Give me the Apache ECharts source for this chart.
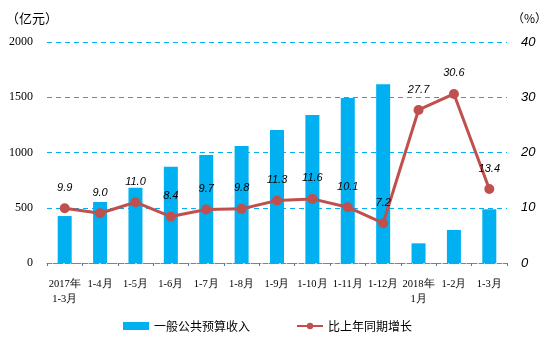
<!DOCTYPE html>
<html><head><meta charset="utf-8">
<script src="https://cdn.jsdelivr.net/npm/echarts@6/dist/echarts.min.js"></script>
<style>html,body{margin:0;padding:0;background:#fff}#c{width:554px;height:348px}</style>
</head><body><div id="c"></div>
<script>
const categories = ['2017年\n1-3月','1-4月','1-5月','1-6月','1-7月','1-8月','1-9月','1-10月','1-11月','1-12月','2018年\n1月','1-2月','1-3月'];
const revenue = [425, 552, 681, 872, 977, 1059, 1204, 1339, 1493, 1617, 178, 299, 486];
const growth = [9.9, 9.0, 11.0, 8.4, 9.7, 9.8, 11.3, 11.6, 10.1, 7.2, 27.7, 30.6, 13.4];
const leftTicks = [0, 2000, 500];
const rightTicks = [0, 40, 10];
const seriesNames = ['一般公共预算收入', '比上年同期增长'];
const unitLeft = '（亿元）', unitRight = '（%）';

const chart = echarts.init(document.getElementById('c'));
chart.setOption({
  animation: false,
  textStyle: {fontFamily: 'Noto Sans CJK SC'},
  grid: {left: 47, right: 47, top: 42, bottom: 85},
  graphic: [
    {type: 'text', left: 6, top: 12, style: {text: unitLeft, font: '13px "Noto Sans CJK SC"', fill: '#000'}},
    {type: 'text', left: 512, top: 12, style: {text: unitRight, font: '12px "Noto Sans CJK SC"', fill: '#000'}}
  ],
  legend: {
    left: 118, bottom: 11, itemGap: 46, itemWidth: 26, itemHeight: 8,
    textStyle: {fontSize: 12, color: '#000', fontFamily: 'Noto Sans CJK SC'},
    data: [{name: seriesNames[0], icon: 'rect'}, {name: seriesNames[1]}]
  },
  xAxis: {
    type: 'category', data: categories,
    axisLine: {show: true, lineStyle: {color: '#00B0F0', type: 'dashed'}},
    axisTick: {show: true, lineStyle: {color: '#4a7fb5'}, length: 3},
    axisLabel: {interval: 0, color: '#000', fontSize: 10.5, fontFamily: 'Liberation Serif', margin: 14, lineHeight: 15}
  },
  yAxis: [
    {type: 'value', min: leftTicks[0], max: leftTicks[1], interval: leftTicks[2],
     axisLine: {show: false}, axisTick: {show: false},
     splitLine: {lineStyle: {color: '#00B0F0', type: [5, 4]}},
     axisLabel: {color: '#000', fontSize: 12, fontFamily: 'Liberation Serif', margin: 14, formatter: v => String(v)}},
    {type: 'value', min: rightTicks[0], max: rightTicks[1], interval: rightTicks[2],
     axisLine: {show: false}, axisTick: {show: false}, splitLine: {show: false},
     axisLabel: {color: '#000', fontSize: 13, fontStyle: 'italic', fontFamily: 'Liberation Sans', margin: 14}}
  ],
  series: [
    {name: seriesNames[0], type: 'bar', data: revenue, barWidth: 14,
     itemStyle: {color: '#00B0F0'}},
    {name: seriesNames[1], type: 'line', yAxisIndex: 1, data: growth,
     symbol: 'circle', symbolSize: 10,
     lineStyle: {color: '#C0504D', width: 3}, itemStyle: {color: '#C0504D'},
     label: {show: true, position: 'top', distance: 10, formatter: p => p.value.toFixed(1),
       fontStyle: 'italic', fontSize: 11, color: '#000', fontFamily: 'Liberation Sans'}}
  ]
});
</script></body></html>
